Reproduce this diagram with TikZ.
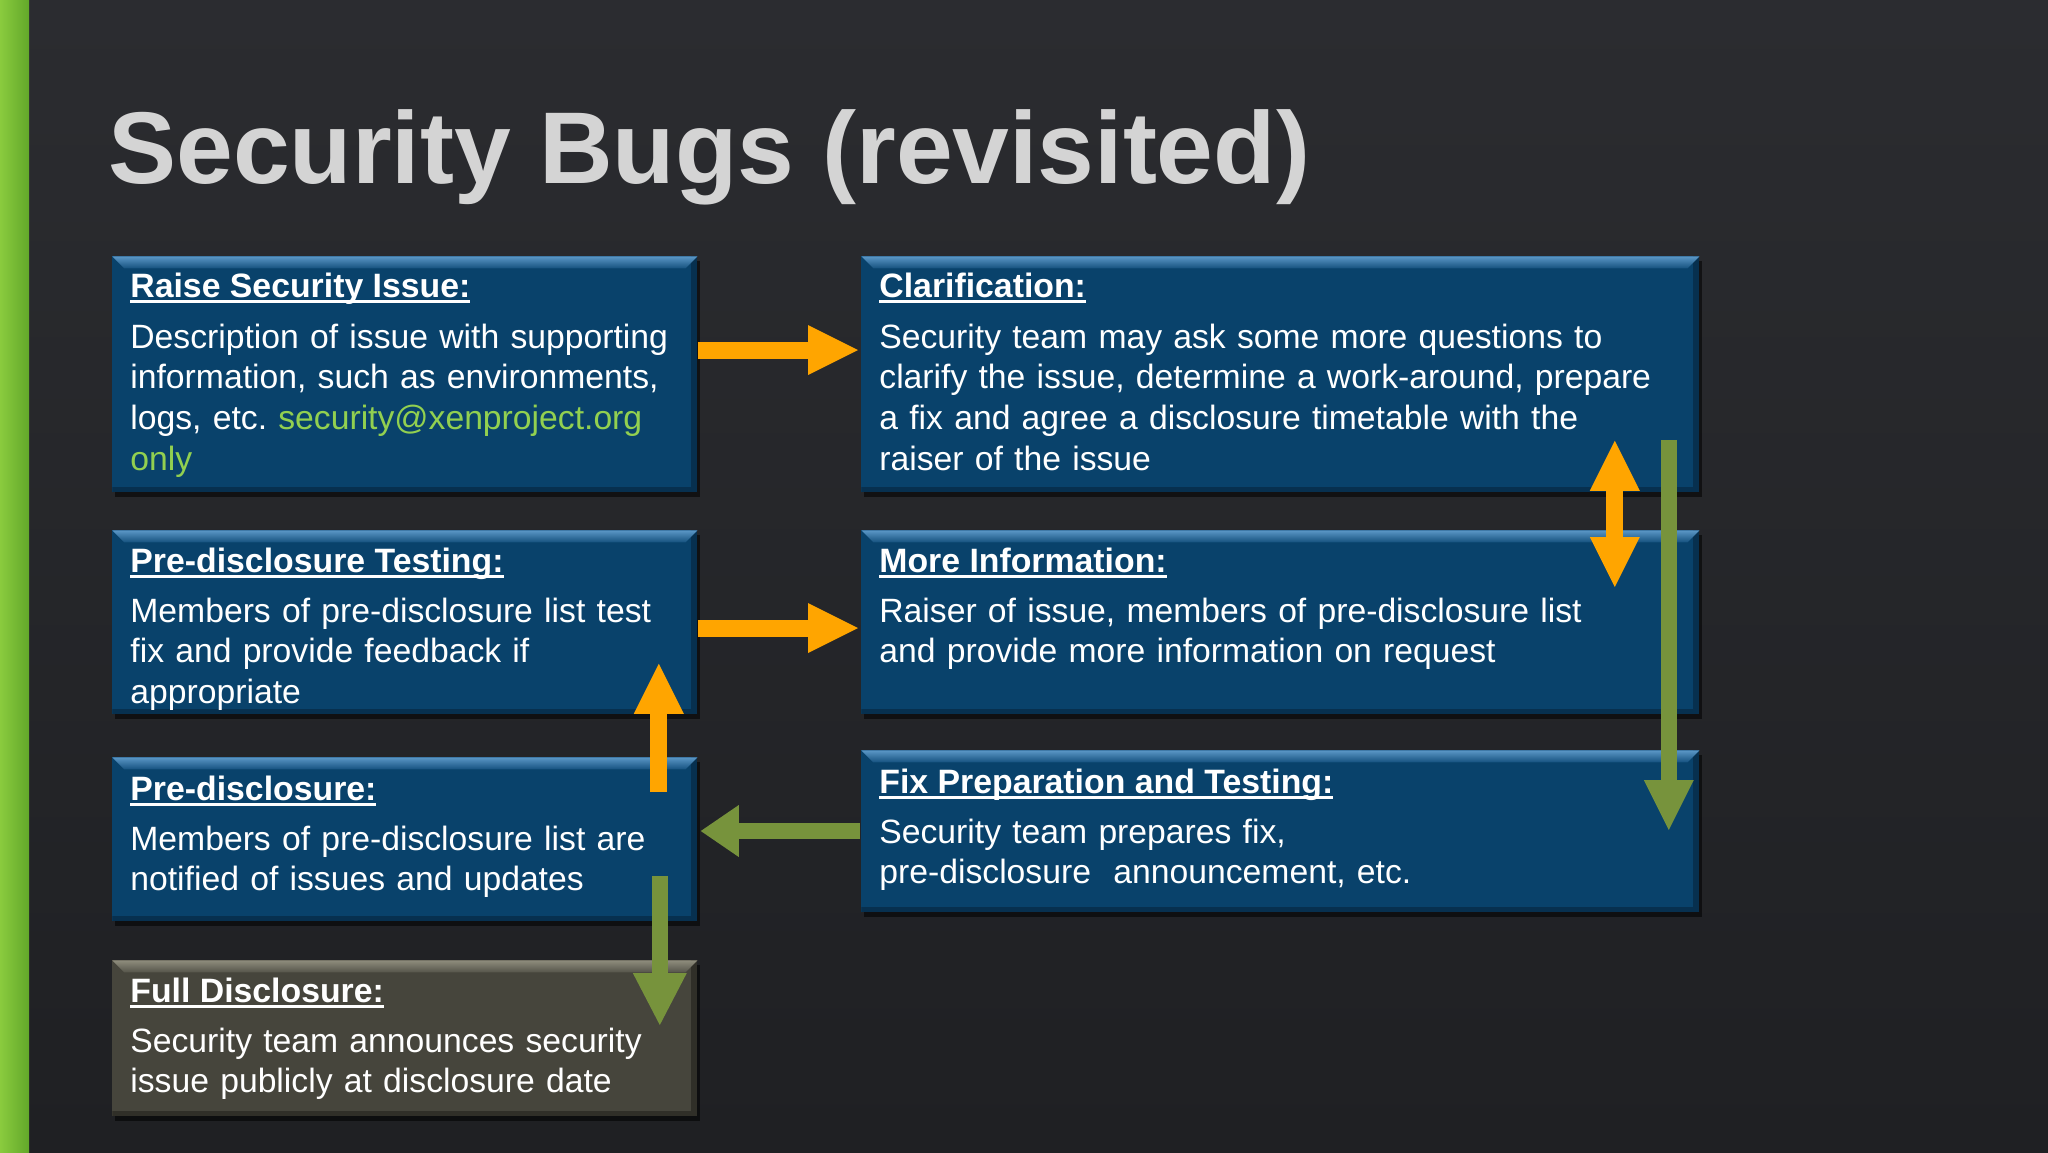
\documentclass[tikz,border=0pt]{standalone}
\usepackage{fontspec}
\setmainfont{Liberation Sans}
\usetikzlibrary{arrows.meta,calc,shadows}
\definecolor{bgA}{HTML}{2B2C30}
\definecolor{bgB}{HTML}{1F2023}
\definecolor{barL}{HTML}{8ACB3E}
\definecolor{barR}{HTML}{62A82A}
\definecolor{boxblue}{HTML}{09426B}
\definecolor{bevblueA}{HTML}{5A96C6}
\definecolor{bevblueB}{HTML}{15517E}
\definecolor{edgeblue}{HTML}{07304F}
\definecolor{boxgrey}{HTML}{46453C}
\definecolor{bevgreyA}{HTML}{8E8C7C}
\definecolor{bevgreyB}{HTML}{55544A}
\definecolor{edgegrey}{HTML}{302F28}
\definecolor{arrorange}{HTML}{FFA500}
\definecolor{arrgreen}{HTML}{77933C}
\definecolor{mailgreen}{HTML}{92D050}
\definecolor{titlegrey}{HTML}{D4D4D4}
\newcommand\hul[1]{\setbox0=\hbox{#1}\rlap{\rule[-3pt]{\wd0}{1.4pt}}\box0}
\frenchspacing
\begin{document}
\begin{tikzpicture}[x=0.5pt,y=-0.5pt,
  panel/.style n args={4}{draw=none, fill=#1, inner sep=0pt, anchor=north west,
    drop shadow={shadow xshift=1.5pt, shadow yshift=-2.5pt, opacity=0.55, fill=black},
    path picture={
      \path (path picture bounding box.north west) coordinate (pNW)
            (path picture bounding box.south east) coordinate (pSE);
      \fill[#4] ($(pNW -| pSE)+(-3pt,0)$) rectangle (pSE);
      \fill[#4] ($(pNW |- pSE)+(0,2.5pt)$) rectangle (pSE);
      \shade[top color=#2, bottom color=#3] (pNW) -- (pNW -| pSE) -- ++(-6pt,-6pt) -- ($(pNW)+(6pt,-6pt)$) -- cycle;
    }},
  bluebox/.style={panel={boxblue}{bevblueA}{bevblueB}{edgeblue}},
  greybox/.style={panel={boxgrey}{bevgreyA}{bevgreyB}{edgegrey}},
  head/.style={font=\fontsize{16.9pt}{20pt}\selectfont\bfseries, text=white, inner sep=0pt, anchor=base west},
  body/.style={font=\fontsize{16.85pt}{20.4pt}\selectfont, text=white, inner sep=0pt, anchor=base west, align=left},
  oarrow/.style={draw=arrorange, line width=8.5pt, line cap=butt},
  garrow/.style={draw=arrgreen, line width=8pt, line cap=butt},
  title/.style={font=\fontsize{51pt}{60pt}\selectfont\bfseries, text=titlegrey, inner sep=0pt, anchor=base west}
]
\useasboundingbox (0,0) rectangle (2048,1152);
\shade[top color=bgA, bottom color=bgB] (0,0) rectangle (2048,1152);
\shade[left color=barL, right color=barR] (0,0) rectangle (29,1152);

\node[title] (title) at (108,183) {Security Bugs (revisited)};

% boxes
\node[bluebox, minimum width=292.5pt, minimum height=118pt] (b1) at (112,256) {};
\node[bluebox, minimum width=419pt, minimum height=118pt] (b2) at (861,256) {};
\node[bluebox, minimum width=292.5pt, minimum height=92pt] (b3) at (112,530) {};
\node[bluebox, minimum width=419pt, minimum height=92pt] (b4) at (861,530) {};
\node[bluebox, minimum width=292.5pt, minimum height=82pt] (b5) at (112,757) {};
\node[bluebox, minimum width=419pt, minimum height=81pt] (b6) at (861,750) {};
\node[greybox, minimum width=292.5pt, minimum height=78pt] (b7) at (112,960) {};

% texts
\node[head] (h1) at ($(b1.north west)+(18,41)$) {\hul{Raise Security Issue:}};
\node[body, text width=290pt] (t1) at ($(b1.north west)+(18,92)$) {Description of issue with supporting\\information, such as environments,\\logs, etc. \textcolor{mailgreen}{security@xenproject.org}\\\textcolor{mailgreen}{only}};

\node[head] (h2) at ($(b2.north west)+(18,41)$) {\hul{Clarification:}};
\node[body, text width=410pt] (t2) at ($(b2.north west)+(18,92)$) {Security team may ask some more questions to\\clarify the issue, determine a work-around, prepare\\a fix and agree a disclosure timetable with the\\raiser of the issue};

\node[head] (h3) at ($(b3.north west)+(18,42)$) {\hul{Pre-disclosure Testing:}};
\node[body, text width=290pt] (t3) at ($(b3.north west)+(18,92)$) {Members of pre-disclosure list test\\fix and provide feedback if\\appropriate};

\node[head] (h4) at ($(b4.north west)+(18,42)$) {\hul{More Information:}};
\node[body, text width=410pt] (t4) at ($(b4.north west)+(18,92)$) {Raiser of issue, members of pre-disclosure list\\and provide more information on request};

\node[head] (h5) at ($(b5.north west)+(18,43)$) {\hul{Pre-disclosure:}};
\node[body, text width=290pt] (t5) at ($(b5.north west)+(18,93)$) {Members of pre-disclosure list are\\notified of issues and updates};

\node[head] (h6) at ($(b6.north west)+(18,43)$) {\hul{Fix Preparation and Testing:}};
\node[body, text width=410pt] (t6) at ($(b6.north west)+(18,93)$) {Security team prepares fix,\\pre-disclosure\ \ announcement, etc.};

\node[head] (h7) at ($(b7.north west)+(18,42)$) {\hul{Full Disclosure:}};
\node[body, text width=290pt] (t7) at ($(b7.north west)+(18,92)$) {Security team announces security\\issue publicly at disclosure date};

% arrows
\coordinate (r1) at ($(b1.north)+(0,94)$);
\coordinate (r2) at ($(b3.north)+(0,98)$);
\coordinate (r3) at ($(b5.north)+(0,74)$);
\draw[oarrow, -{Triangle[width=25pt,length=25pt,line width=0pt]}] (b1.east |- r1) -- ($(b2.west |- r1)+(-3,0)$);
\draw[oarrow, -{Triangle[width=25pt,length=25pt,line width=0pt]}] (b3.east |- r2) -- ($(b4.west |- r2)+(-3,0)$);
\draw[oarrow, -{Triangle[width=25pt,length=25pt,line width=0pt]}] ($(b5.north east)+(-39,35)$) -- ($(b3.south east)+(-39,-51)$);
\draw[oarrow, {Triangle[width=25pt,length=25pt,line width=0pt]}-{Triangle[width=25pt,length=25pt,line width=0pt]}] ($(b2.south east)+(-85,-52)$) -- ($(b4.north east)+(-85,57)$);
\draw[garrow, -{Triangle[width=25pt,length=25pt,line width=0pt]}] ($(b2.south east)+(-31,-53)$) -- ($(b6.north east)+(-31,80)$);
\draw[garrow, -{Triangle[width=26pt,length=19pt,line width=0pt]}] ($(b6.west |- r3)+(-1,0)$) -- ($(b5.east |- r3)+(3,0)$);
\draw[garrow, -{Triangle[width=27pt,length=26pt,line width=0pt]}] ($(b5.south east)+(-38,-46)$) -- ($(b7.north east)+(-38,65)$);
\end{tikzpicture}
\end{document}
